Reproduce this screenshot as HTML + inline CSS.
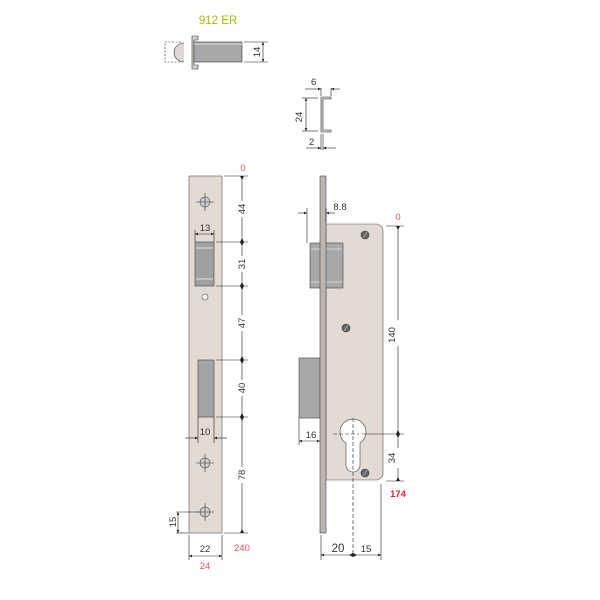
<!DOCTYPE html>
<html><head><style>body{margin:0;background:#fff}svg{display:block}text{font-family:"Liberation Sans",sans-serif;font-size:9.5px;fill:#333}</style></head><body>
<svg width="600" height="600" viewBox="0 0 600 600" xmlns="http://www.w3.org/2000/svg">
<defs><marker id="a" markerWidth="6" markerHeight="6" refX="5" refY="3" orient="auto-start-reverse"><path d="M0,0.8L5,3L0,5.2z" fill="#222"/></marker></defs>
<g stroke="#222" stroke-width="0.6" fill="none">
<!-- top bolt view -->
<text x="218" y="24" text-anchor="middle" stroke="none" style="fill:#b4b400;font-size:11.5px">912 ER</text>
<rect x="165" y="42" width="15" height="20" stroke-dasharray="2,1.5"/>
<path d="M184,43 A10,9.5 0 0 0 184,62" fill="#e0d8d0" stroke="#333"/>
<path d="M192,36h6v4h-4v25h4v4h-6z" fill="#d8d0c8" stroke="#333"/>
<rect x="194" y="42" width="48" height="20" fill="#a8a8a8" stroke="#333"/>
<line x1="194" y1="44" x2="242" y2="44" stroke="#ccc" stroke-width="1.5"/>
<line x1="244" y1="42" x2="268" y2="42"/><line x1="244" y1="62" x2="268" y2="62"/>
<line x1="263" y1="42" x2="263" y2="62" marker-start="url(#a)" marker-end="url(#a)"/>
<text transform="translate(260,52) rotate(-90)" text-anchor="middle" stroke="none">14</text>
<!-- C profile -->
<path d="M321,97h10v2h-8v31h8v2h-10z" fill="#d8d0c8" stroke="#333"/>
<line x1="321" y1="88" x2="321" y2="96"/><line x1="331" y1="88" x2="331" y2="96"/>
<line x1="305" y1="89" x2="321" y2="89" marker-end="url(#a)"/><line x1="340" y1="89" x2="331" y2="89" marker-end="url(#a)"/>
<text x="311" y="85" stroke="none">6</text>
<line x1="302" y1="98" x2="318" y2="98"/><line x1="302" y1="131" x2="318" y2="131"/>
<line x1="306" y1="98" x2="306" y2="131" marker-start="url(#a)" marker-end="url(#a)"/>
<text transform="translate(302,117) rotate(-90)" text-anchor="middle" stroke="none">24</text>
<line x1="321" y1="134" x2="321" y2="150"/><line x1="323" y1="134" x2="323" y2="150"/>
<line x1="306" y1="148" x2="321" y2="148" marker-end="url(#a)"/><line x1="336" y1="148" x2="323" y2="148" marker-end="url(#a)"/>
<text x="309" y="145" stroke="none">2</text>
<!-- faceplate front -->
<rect x="189" y="176" width="33" height="357" fill="#e2dad3" stroke="#555"/>
<rect x="195" y="242" width="19" height="44" fill="#a0a0a0" stroke="#444"/>
<path d="M196,248h17M196,279h17" stroke="#ccc" stroke-width="1.5"/>
<circle cx="205" cy="297" r="3" fill="#fff" stroke="#555"/>
<rect x="198" y="360" width="16" height="57" fill="#a4a4a4" stroke="#444"/>
<g fill="#d0d0d0" stroke="#444">
<circle cx="205" cy="202" r="5"/><circle cx="205" cy="463" r="5"/><circle cx="205" cy="512" r="5"/></g>
<path d="M196,202h18M205,193v18M196,463h18M205,454v18M196,512h18M205,503v18" stroke="#333"/>
<line x1="224" y1="176" x2="248" y2="176"/><line x1="224" y1="533" x2="248" y2="533"/>
<line x1="216" y1="242" x2="248" y2="242"/><line x1="216" y1="286" x2="248" y2="286"/>
<line x1="216" y1="360" x2="248" y2="360"/><line x1="216" y1="417" x2="248" y2="417"/>
<line x1="242" y1="176" x2="242" y2="533"/>
<g stroke="none" fill="#222"><path d="M240,242l2,-4l2,4zM240,286l2,-4l2,4zM240,360l2,-4l2,4zM240,417l2,-4l2,4zM240,176l2,4l2,-4zM240,533l2,-4l2,4zM240,242l2,4l2,-4zM240,286l2,4l2,-4zM240,360l2,4l2,-4zM240,417l2,4l2,-4z"/></g>
<g stroke="none">
<rect x="236" y="201" width="12" height="16" fill="#fff"/><rect x="236" y="256" width="12" height="16" fill="#fff"/><rect x="236" y="315" width="12" height="16" fill="#fff"/><rect x="236" y="380" width="12" height="16" fill="#fff"/><rect x="236" y="467" width="12" height="16" fill="#fff"/>
<text transform="translate(245,209) rotate(-90)" text-anchor="middle">44</text>
<text transform="translate(245,264) rotate(-90)" text-anchor="middle">31</text>
<text transform="translate(245,323) rotate(-90)" text-anchor="middle">47</text>
<text transform="translate(245,388) rotate(-90)" text-anchor="middle">40</text>
<text transform="translate(245,475) rotate(-90)" text-anchor="middle">78</text>
<text x="243" y="171" text-anchor="middle" style="fill:#e8505a">0</text>
<text x="242" y="551" text-anchor="middle" style="fill:#e8505a">240</text>
<text x="205" y="231" text-anchor="middle">13</text>
<text x="205" y="435" text-anchor="middle">10</text>
<text x="205" y="552" text-anchor="middle">22</text>
<text x="205" y="569" text-anchor="middle" style="fill:#e8505a">24</text>
<text transform="translate(176,522) rotate(-90)" text-anchor="middle">15</text>
</g>
<line x1="195" y1="230" x2="195" y2="242"/><line x1="214" y1="230" x2="214" y2="242"/>
<line x1="195" y1="234" x2="214" y2="234" marker-start="url(#a)" marker-end="url(#a)"/>
<line x1="198" y1="417" x2="198" y2="443"/><line x1="214" y1="417" x2="214" y2="443"/>
<line x1="185" y1="438" x2="198" y2="438" marker-end="url(#a)"/><line x1="227" y1="438" x2="214" y2="438" marker-end="url(#a)"/>
<line x1="176" y1="512" x2="198" y2="512"/><line x1="176" y1="533" x2="189" y2="533"/>
<line x1="178" y1="512" x2="178" y2="533" marker-start="url(#a)" marker-end="url(#a)"/>
<line x1="189" y1="535" x2="189" y2="560"/><line x1="222" y1="535" x2="222" y2="560"/>
<line x1="189" y1="556" x2="222" y2="556" marker-start="url(#a)" marker-end="url(#a)"/>
<!-- side view -->
<rect x="299" y="358" width="21" height="60" fill="#a8a8a8" stroke="#444"/>
<path d="M326,224h50a7,7 0 0 1 7,7v242a7,7 0 0 1 -7,7h-50z" fill="#e2dad3" stroke="#555"/>
<rect x="310" y="243" width="33" height="45" fill="#a8a8a8" stroke="#444"/>
<path d="M311,249h31M311,282h31" stroke="#ccc" stroke-width="1.2"/>
<rect x="320" y="176" width="6" height="357" fill="#bdb6b0" stroke="#444"/>
<g fill="#666" stroke="#333"><circle cx="365" cy="235" r="4"/><circle cx="346" cy="328" r="4"/><circle cx="365" cy="473" r="4"/></g>
<path d="M363,238l4,-6M344,331l4,-6M363,476l4,-6" stroke="#ccc"/>
<path d="M346,443 A13,13 0 1 1 360,443 L360,465 A7,7 0 0 1 346,465z" fill="#fff" stroke="#444"/>
<path d="M353,418v138M333,434h26" stroke-dasharray="4,2"/>
<line x1="307" y1="208" x2="307" y2="243"/><line x1="326" y1="208" x2="326" y2="222"/>
<line x1="298" y1="213" x2="307" y2="213" marker-end="url(#a)"/><line x1="335" y1="213" x2="326" y2="213" marker-end="url(#a)"/>
<line x1="299" y1="418" x2="299" y2="445"/>
<line x1="299" y1="441" x2="320" y2="441" marker-start="url(#a)" marker-end="url(#a)"/>
<line x1="386" y1="226" x2="404" y2="226"/><line x1="386" y1="481" x2="404" y2="481"/><line x1="362" y1="434" x2="404" y2="434"/>
<line x1="398" y1="226" x2="398" y2="481"/>
<g stroke="none" fill="#222"><path d="M396,226l2,4l2,-4zM396,481l2,-4l2,4zM396,434l2,-4l2,4zM396,434l2,4l2,-4z"/></g>
<line x1="321" y1="535" x2="321" y2="560"/><line x1="381" y1="484" x2="381" y2="560"/>
<line x1="321" y1="555" x2="381" y2="555" marker-start="url(#a)" marker-end="url(#a)"/>
<g stroke="none" fill="#222"><path d="M353,553l-4,2l4,2zM353,553l4,2l-4,2z"/></g>
<g stroke="none">
<text x="340" y="210" text-anchor="middle">8.8</text>
<text x="311" y="438" text-anchor="middle">16</text>
<rect x="392" y="320" width="12" height="26" fill="#fff"/><rect x="392" y="448" width="12" height="20" fill="#fff"/>
<text transform="translate(395,335) rotate(-90)" text-anchor="middle">140</text>
<text transform="translate(395,458) rotate(-90)" text-anchor="middle">34</text>
<text x="398" y="220" text-anchor="middle" style="fill:#e8505a">0</text>
<text x="398" y="497" text-anchor="middle" style="fill:#e02030;font-weight:bold">174</text>
<text x="338" y="552" text-anchor="middle" style="font-size:11.5px">20</text>
<text x="366" y="552" text-anchor="middle">15</text>
</g>
</g>
</svg>
</body></html>
